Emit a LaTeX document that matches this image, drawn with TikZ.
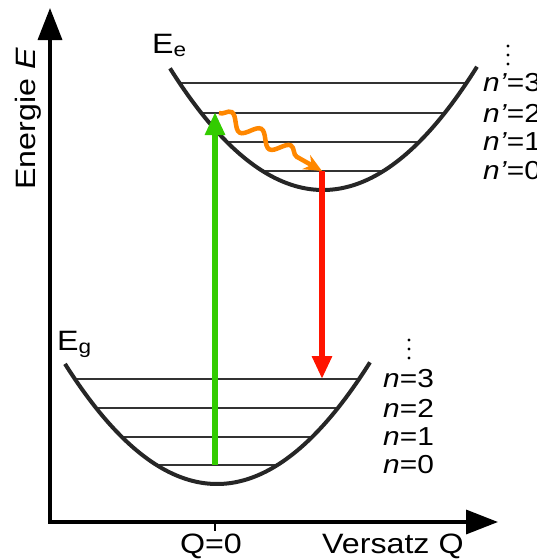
\documentclass[tikz,border=0pt]{standalone}
\usepackage{fontspec}
\setmainfont{Liberation Sans}[FakeStretch=1.15]
\usetikzlibrary{arrows.meta, decorations.pathmorphing}

\definecolor{anregung}{RGB}{51,204,0}
\definecolor{emission}{RGB}{255,20,0}
\definecolor{relax}{RGB}{255,135,0}

\begin{document}
\begin{tikzpicture}[x=1pt, y=-1pt,
    kurve/.style={line width=4pt, black!85},
    niveau/.style={line width=1.6pt, black!80},
    beschr/.style={font=\fontsize{26}{30}\selectfont, inner sep=0pt},
    achsbeschr/.style={font=\fontsize{28}{32}\selectfont, inner sep=0pt},
    pfeil/.style={line width=6.5pt, -{Triangle[length=23pt,width=19pt]}}]
    \clip (0,0) rectangle (536,560);

    % 坐标轴
    \coordinate (ytip) at (50,8);
    \coordinate (xtip) at (498,522);
    \coordinate (q0) at (215,522);
    \coordinate (q0b) at (215,531);
    \draw[line width=3.5pt, {Triangle[length=32pt,width=24pt]}-{Triangle[length=32pt,width=24pt]}] (ytip) |- (xtip);
    \draw[line width=2pt] (q0) -- (q0b);
    \node[achsbeschr, anchor=base west, rotate=90] (yachse) at (35,190) {Energie \textit{E}};
    \node[achsbeschr, anchor=base west] (xachse) at (322,553) {Versatz Q};
    \node[achsbeschr, anchor=base] (qnull) at (211,553) {Q=0};

    % 基态
    \foreach \y/\n in {379/3, 408/2, 437/1, 465/0} {
        \pgfmathsetmacro\dx{13.868*sqrt(484-\y)}
        \draw[niveau] (217-\dx,\y) -- (217+\dx,\y);
        \node[beschr, anchor=west] (g\n) at (383,\y) {\textit{n}=\n};
    }
    \draw[kurve, domain=-152:153, samples=80, smooth] plot ({217+\x}, {484-(0.0721*\x)*(0.0721*\x)});
    \foreach \d in {0,1,2} \fill (409,340+9*\d) circle (1.6pt);
    \node[achsbeschr, anchor=base west] (lblEg) at (57,350) {E\textsubscript{g}};

    % 激发态
    \foreach \y/\n in {83/3, 113/2, 142/1, 171/0} {
        \pgfmathsetmacro\dx{13.868*sqrt(190-\y)}
        \draw[niveau] (323-\dx,\y) -- (323+\dx,\y);
        \node[beschr, anchor=west] (e\n) at (483,\y) {\textit{n'}=\n};
    }
    \draw[kurve, domain=-153:154, samples=80, smooth] plot ({323+\x}, {190-(0.0721*\x)*(0.0721*\x)});
    \foreach \d in {0,1,2} \fill (508,46+9*\d) circle (1.6pt);
    \node[achsbeschr, anchor=base west] (lblEe) at (152,53) {E\textsubscript{e}};

    % 跃迁
    \coordinate (abs0) at (215,465);
    \coordinate (abs1) at (215,112);
    \coordinate (rel0) at (219,113);
    \coordinate (em0) at (322,171);
    \coordinate (em1) at (322,379);
    \draw[pfeil, anregung] (abs0) -- (abs1);
    \draw[relax, line width=4.5pt, decorate,
        decoration={snake, amplitude=7pt, segment length=34pt, post length=18pt},
        -{Stealth[length=18pt,width=16pt]}] (rel0) -- (em0);
    \draw[pfeil, emission] (em0) -- (em1);
\end{tikzpicture}
\end{document}
